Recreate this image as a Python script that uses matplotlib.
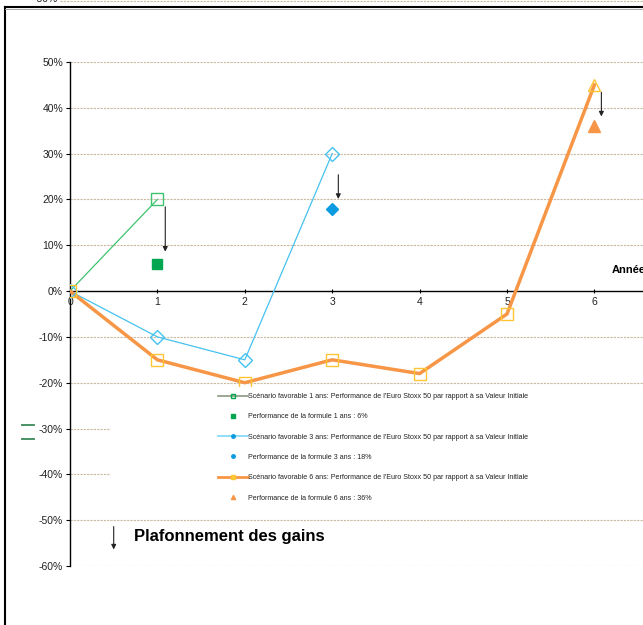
import matplotlib.pyplot as plt
from matplotlib.lines import Line2D
from matplotlib.patches import Rectangle

plt.rcParams['font.family'] = ['Liberation Sans', 'DejaVu Sans']

# --- Données ---
annees = [0, 1, 2, 3, 4, 5, 6]
scen_1an = [0, 20]
scen_3ans = [0, -10, -15, 30]
scen_6ans = [0, -15, -20, -15, -18, -5, 45]
perf_1an = 6
perf_3ans = 18
perf_6ans = 36
y_ticks = [50, 40, 30, 20, 10, 0, -10, -20, -30, -40, -50, -60]
legend_labels = [
    "Scénario favorable 1 ans: Performance de l'Euro Stoxx 50 par rapport à sa Valeur Initiale",
    "Performance de la formule 1 ans : 6%",
    "Scénario favorable 3 ans: Performance de l'Euro Stoxx 50 par rapport à sa Valeur Initiale",
    "Performance de la formule 3 ans : 18%",
    "Scénario favorable 6 ans: Performance de l'Euro Stoxx 50 par rapport à sa Valeur Initiale",
    "Performance de la formule 6 ans : 36%",
]

vert = '#3cc46e'
vert_f = '#00a650'
bleu = '#45c2ef'
bleu_f = '#0a9be0'
orange = '#f79646'
jaune = '#ffc533'
grille = '#cbb9a3'

W, H = 643, 625
fig = plt.figure(figsize=(W / 100, H / 100), dpi=100)

def fx(px):
    return px / W

def fy(py):
    return 1 - py / H

# cadre de la capture
fig.add_artist(Line2D([fx(5), fx(5)], [0, fy(7)], color='black', lw=1.5))
fig.add_artist(Line2D([fx(5), 1], [fy(7), fy(7)], color='black', lw=1.5))
fig.add_artist(Line2D([fx(5), 1], [fy(9), fy(9)], color='#999999', lw=0.6))
fig.add_artist(Line2D([fx(60), 1], [fy(1), fy(1)], color=grille, lw=0.8, ls=(0, (2, 1))))
fig.text(fx(58), fy(-1), "-50%", ha='right', va='center', fontsize=7.5, color='#222222')

# ---- axes ----
left, right = 70, 643
top, bottom = 62, 566
ax = fig.add_axes([fx(left), fy(bottom), fx(right - left), fy(top) - fy(bottom)])
step = 87.4
ax.set_xlim(0, (right - left) / step)
ax.set_ylim(-60, 50)

for s in ['top', 'right']:
    ax.spines[s].set_visible(False)
ax.spines['left'].set_color('black')
ax.spines['left'].set_linewidth(1.0)
ax.spines['bottom'].set_position(('data', 0))
ax.spines['bottom'].set_linewidth(1.0)

ax.set_yticks(y_ticks)
ax.set_yticklabels([f"{v}%" for v in y_ticks], fontsize=7.5, color='#222222')
ax.set_xticks(annees)
ax.set_xticklabels([str(a) for a in annees], fontsize=7.5, color='#222222')
ax.tick_params(axis='y', length=3, direction='out', pad=2)
ax.tick_params(axis='x', length=3, direction='inout', pad=3)

# grille
for v in y_ticks:
    if v == 0:
        continue
    ax.axhline(v, color=grille, lw=0.8, ls=(0, (2, 1)), zorder=0)

# séries
ax.plot(annees[:2], scen_1an, color=vert, lw=0.9, zorder=3)
ax.plot(annees[1:2], scen_1an[1:], ls='none', marker='s', ms=9, mfc='none', mec=vert, mew=1.0, zorder=4)
ax.plot([1], [perf_1an], ls='none', marker='s', ms=7, color=vert_f, zorder=4)

ax.plot(annees[:4], scen_3ans, color=bleu, lw=0.9, zorder=3)
ax.plot(annees[:4], scen_3ans, ls='none', marker='D', ms=7, mfc='none', mec=bleu, mew=1.0, zorder=4)
ax.plot([3], [perf_3ans], ls='none', marker='D', ms=6, color=bleu_f, zorder=4)

ax.plot(annees, scen_6ans, color=orange, lw=2.5, zorder=3)
ax.plot(annees[:6], scen_6ans[:6], ls='none', marker='s', ms=9, mfc='none', mec=jaune, mew=1.0, zorder=4)
ax.plot([6], [scen_6ans[6]], ls='none', marker='^', ms=9, mfc='none', mec=jaune, mew=1.0, zorder=4)
ax.plot([6], [perf_6ans], ls='none', marker='^', ms=9, color=orange, zorder=4)

# flèches
arrow = dict(arrowstyle='-|>', color='#222222', lw=0.8, mutation_scale=7)
ax.annotate('', xy=(1.09, 8), xytext=(1.09, 19), arrowprops=arrow, zorder=5)
ax.annotate('', xy=(3.07, 19.5), xytext=(3.07, 26), arrowprops=arrow, zorder=5)
ax.annotate('', xy=(6.08, 37.5), xytext=(6.08, 44), arrowprops=arrow, zorder=5)
ax.annotate('', xy=(0.5, -57), xytext=(0.5, -50.8), arrowprops=arrow, zorder=5,
            annotation_clip=False)

ax.text(0.73, -53.5, "Plafonnement des gains", fontsize=12, fontweight='bold', va='center')
ax.text(6.2, 4.5, "Année", fontsize=8, fontweight='bold', va='center', clip_on=False)

# fond blanc de la légende (masque la grille)
fig.add_artist(Rectangle((fx(110), fy(504)), 1 - fx(110), fy(387) - fy(504),
                         facecolor='white', edgecolor='none', zorder=2))

# légende
handles = [
    Line2D([], [], color='#8a9a80', lw=1.2, marker='s', ms=3, mfc='none', mec=vert_f),
    Line2D([], [], ls='none', marker='s', ms=3, color=vert_f),
    Line2D([], [], color='#7fd7f7', lw=1.2, marker='o', ms=2.5, mfc=bleu_f, mec=bleu_f),
    Line2D([], [], ls='none', marker='o', ms=2.5, color=bleu_f),
    Line2D([], [], color=orange, lw=2, marker='s', ms=3, mfc=jaune, mec=jaune),
    Line2D([], [], ls='none', marker='^', ms=3, color=orange),
]
leg = fig.legend(handles, legend_labels, loc='upper left', bbox_to_anchor=(fx(218), fy(393)),
                 fontsize=5.1, frameon=False, handlelength=4.2, handletextpad=0.1,
                 labelspacing=1.88, borderpad=0, borderaxespad=0)
leg.set_zorder(6)
for t in leg.get_texts():
    t.set_color('#222222')

# marques vertes résiduelles à gauche
fig.add_artist(Line2D([fx(22), fx(34)], [fy(425), fy(425)], color='#3a8a5a', lw=1.3))
fig.add_artist(Line2D([fx(22), fx(34)], [fy(439), fy(439)], color='#3a8a5a', lw=1.3))

fig.savefig('out.png', dpi=100)
